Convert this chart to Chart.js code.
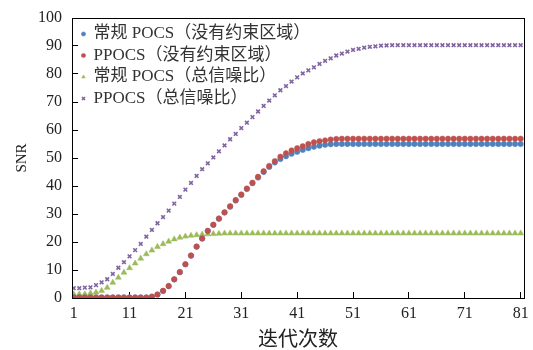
<!DOCTYPE html>
<html>
<head>
<meta charset="utf-8">
<script src="https://cdn.jsdelivr.net/npm/chart.js@4.4.0/dist/chart.umd.min.js"></script>
<style>
html, body { margin: 0; padding: 0; background: #fff; }
</style>
</head>
<body>
<canvas id="chart1" width="533" height="350"></canvas>
<script>
// iteration numbers 1..81
const iterations = Array.from({length: 81}, (_, i) => i + 1);
const xTicks = [1, 11, 21, 31, 41, 51, 61, 71, 81];

// 常规 POCS（没有约束区域）
const pocsNoRegion = [
  0.2, 0.2, 0.2, 0.2, 0.2, 0.2, 0.2, 0.2, 0.2, 0.2,
  0.2, 0.2, 0.2, 0.2, 0.5, 1.2, 2.5, 4.2, 6.6, 9.2,
  12.0, 15.1, 18.3, 21.2, 23.9, 26.1, 28.3, 30.5, 32.6, 34.8,
  36.8, 38.9, 41.0, 43.0, 45.0, 46.8, 48.4, 49.6, 50.6, 51.5,
  52.2, 52.9, 53.5, 54.0, 54.4, 54.7, 54.9, 55.0, 55.0, 55.0,
  55.0, 55.0, 55.0, 55.0, 55.0, 55.0, 55.0, 55.0, 55.0, 55.0,
  55.0, 55.0, 55.0, 55.0, 55.0, 55.0, 55.0, 55.0, 55.0, 55.0,
  55.0, 55.0, 55.0, 55.0, 55.0, 55.0, 55.0, 55.0, 55.0, 55.0,
  55.0
];

// PPOCS（没有约束区域）
const ppocsNoRegion = [
  0.2, 0.2, 0.2, 0.2, 0.2, 0.2, 0.2, 0.2, 0.2, 0.2,
  0.2, 0.2, 0.2, 0.2, 0.5, 1.3, 2.6, 4.3, 6.7, 9.3,
  12.1, 15.2, 18.4, 21.3, 24.0, 26.2, 28.4, 30.6, 32.8, 35.0,
  37.0, 39.1, 41.2, 43.3, 45.3, 47.2, 48.9, 50.5, 51.7, 52.7,
  53.5, 54.2, 55.0, 55.6, 56.0, 56.3, 56.6, 56.8, 56.9, 56.9,
  56.9, 56.9, 56.9, 56.9, 56.9, 56.9, 56.9, 56.9, 56.9, 56.9,
  56.9, 56.9, 56.9, 56.9, 56.9, 56.9, 56.9, 56.9, 56.9, 56.9,
  56.9, 56.9, 56.9, 56.9, 56.9, 56.9, 56.9, 56.9, 56.9, 56.9,
  56.9
];

// 常规 POCS（总信噪比）
const pocsTotal = [
  1.4, 1.4, 1.4, 1.7, 2.0, 2.6, 3.7, 5.5, 7.3, 9.1,
  10.7, 12.4, 14.1, 15.7, 17.0, 18.3, 19.3, 20.2, 21.0, 21.6,
  22.0, 22.3, 22.5, 22.7, 22.8, 22.9, 23.0, 23.1, 23.1, 23.1,
  23.1, 23.1, 23.1, 23.1, 23.1, 23.1, 23.1, 23.1, 23.1, 23.1,
  23.1, 23.1, 23.1, 23.1, 23.1, 23.1, 23.1, 23.1, 23.1, 23.1,
  23.1, 23.1, 23.1, 23.1, 23.1, 23.1, 23.1, 23.1, 23.1, 23.1,
  23.1, 23.1, 23.1, 23.1, 23.1, 23.1, 23.1, 23.1, 23.1, 23.1,
  23.1, 23.1, 23.1, 23.1, 23.1, 23.1, 23.1, 23.1, 23.1, 23.1,
  23.1
];

// PPOCS（总信噪比）
const ppocsTotal = [
  3.5, 3.5, 3.7, 3.8, 4.6, 5.6, 6.7, 8.6, 10.8, 12.8,
  14.9, 17.1, 19.3, 21.9, 24.3, 26.7, 28.9, 31.2, 33.7, 36.1,
  38.7, 41.1, 43.6, 46.0, 48.1, 50.2, 52.4, 54.5, 56.7, 58.6,
  60.7, 62.6, 64.6, 66.6, 68.6, 70.5, 72.4, 74.2, 75.7, 77.3,
  78.8, 80.2, 81.3, 82.4, 83.6, 84.7, 85.6, 86.6, 87.3, 88.0,
  88.6, 89.0, 89.4, 89.7, 89.9, 90.1, 90.2, 90.3, 90.3, 90.3,
  90.3, 90.3, 90.3, 90.3, 90.3, 90.3, 90.3, 90.3, 90.3, 90.3,
  90.3, 90.3, 90.3, 90.3, 90.3, 90.3, 90.3, 90.3, 90.3, 90.3,
  90.3
];

const seriesLabels = ['常规 POCS（没有约束区域）', 'PPOCS（没有约束区域）', '常规 POCS（总信噪比）', 'PPOCS（总信噪比）'];

const serif = '"Liberation Serif", "Noto Sans CJK SC", serif';
const legendDx = 5.5;
const legendDy = 3;

function chart1() {
  let ctx = document.getElementById('chart1').getContext('2d');
  let myChart = new Chart(ctx, {
    type: 'line',
    data: {
      labels: iterations,
      datasets: [{
        label: seriesLabels[0],
        data: pocsNoRegion,
        showLine: false,
        pointStyle: 'circle',
        pointRadius: 2.7,
        pointBorderWidth: 0.5,
        backgroundColor: '#4F81BD',
        borderColor: '#4F81BD',
        order: 2
      }, {
        label: seriesLabels[1],
        data: ppocsNoRegion,
        showLine: false,
        pointStyle: 'circle',
        pointRadius: 2.7,
        pointBorderWidth: 0.5,
        backgroundColor: '#C0504D',
        borderColor: '#C0504D',
        order: 1
      }, {
        label: seriesLabels[2],
        data: pocsTotal,
        showLine: false,
        pointStyle: 'triangle',
        pointRadius: 3.4,
        pointBorderWidth: 0.5,
        backgroundColor: '#9BBB59',
        borderColor: '#9BBB59',
        order: 3
      }, {
        label: seriesLabels[3],
        data: ppocsTotal,
        showLine: false,
        pointStyle: 'crossRot',
        pointRadius: 2.6,
        pointBorderWidth: 1.6,
        backgroundColor: '#8064A2',
        borderColor: '#8064A2',
        order: 4
      }]
    },
    options: {
      responsive: false,
      animation: false,
      layout: {
        padding: { top: 18, right: 9, left: 0, bottom: 0 }
      },
      scales: {
        x: {
          type: 'linear',
          min: 0.7,
          max: 81.6,
          afterBuildTicks: (scale) => { scale.ticks = xTicks.map(v => ({ value: v })); },
          afterFit: (scale) => { scale.height = 52; scale.paddingLeft = 0; scale.paddingRight = 0; },
          grid: { drawOnChartArea: false, tickLength: -6, color: '#000' },
          border: { color: '#000', width: 1 },
          ticks: {
            autoSkip: false,
            maxRotation: 0,
            padding: 12,
            color: '#222',
            font: { family: serif, size: 16 }
          },
          title: {
            display: true,
            text: '迭代次数',
            color: '#222',
            font: { family: serif, size: 20 },
            padding: { top: 0, bottom: -3 }
          }
        },
        y: {
          min: 0,
          max: 100,
          afterFit: (scale) => { scale.width = 72; scale.paddingTop = 0; scale.paddingBottom = 0; },
          grid: { drawOnChartArea: false, tickLength: -6, color: '#000' },
          border: { color: '#000', width: 1 },
          ticks: {
            stepSize: 10,
            padding: 16,
            color: '#222',
            font: { family: serif, size: 16 }
          },
          title: {
            display: true,
            text: 'SNR',
            color: '#222',
            font: { family: serif, size: 15 },
            padding: { top: 13, bottom: 0 }
          }
        }
      },
      plugins: {
        legend: {
          position: 'chartArea',
          align: 'start',
          labels: {
            usePointStyle: true,
            boxWidth: 3,
            boxHeight: 3,
            padding: 4.5,
            color: '#333',
            font: { family: serif, size: 17 },
            sort: (a, b) => a.datasetIndex - b.datasetIndex
          }
        },
        tooltip: { enabled: false }
      }
    },
    plugins: [{
      id: 'frame',
      afterLayout: (chart) => {
        chart.legend.left = chart.chartArea.left + legendDx;
        chart.legend.top = chart.chartArea.top + legendDy;
      },
      afterDraw: (chart) => {
        const c = chart.ctx;
        const a = chart.chartArea;
        c.save();
        c.strokeStyle = '#000';
        c.lineWidth = 1;
        c.strokeRect(Math.round(a.left) + 0.5, Math.round(a.top) + 0.5,
          Math.round(a.right - a.left), Math.round(a.bottom - a.top));
        c.restore();
      }
    }]
  });
}

chart1();
</script>
</body>
</html>
